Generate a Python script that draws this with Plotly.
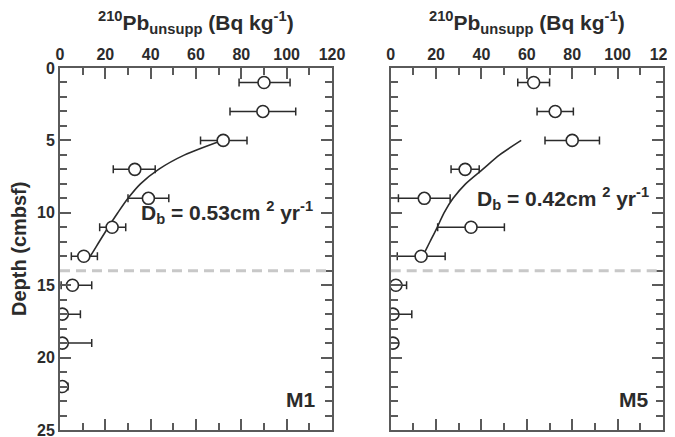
import plotly.graph_objects as go
from plotly.subplots import make_subplots

# ---- M1 data ----
m1_depth = [1, 3, 5, 7, 9, 11, 13, 15, 17, 19, 22]
m1_pb = [90, 89.5, 72, 33, 39, 23, 10.5, 5.5, 1, 1, 1]
m1_err_plus = [11.5, 14.5, 10.5, 9, 9, 6, 6, 8.5, 8, 13, 2.5]
m1_err_minus = [11, 14.5, 10, 9.5, 9, 5.5, 5.5, 5, 1, 1, 1]
m1_fit_depth = [5, 6, 7, 8, 9, 10, 11, 12, 13, 13.2]
m1_fit_pb = [71.5, 55, 43.5, 35.5, 30, 25.5, 21.3, 17.3, 13.3, 12]

# ---- M5 data ----
m5_depth = [1, 3, 5, 7, 9, 11, 13, 15, 17, 19]
m5_pb = [63, 72.5, 80, 32.8, 14.8, 35.4, 13.4, 2.3, 1, 1]
m5_err_plus = [7, 8, 12, 6.2, 11.4, 14.7, 10.6, 4.7, 8.3, 1.5]
m5_err_minus = [7, 8, 12, 6.2, 11.4, 14.7, 10.5, 2.3, 1, 1]
m5_fit_depth = [5, 6, 7, 8, 9, 10, 11, 12, 12.9]
m5_fit_pb = [57.5, 48, 40.5, 33, 27.5, 23.5, 20.5, 17.3, 14.4]

x_ticks = [0, 20, 40, 60, 80, 100, 120]
y_ticks = [0, 5, 10, 15, 20, 25]
boundary_depth = 14
db_labels = ["D<sub>b</sub> = 0.53cm <sup>2</sup> yr<sup>-1</sup>",
             "D<sub>b</sub> = 0.42cm <sup>2</sup> yr<sup>-1</sup>"]
core_labels = ["M1", "M5"]
title_text = "<sup>210</sup>Pb<sub>unsupp</sub> (Bq kg<sup>-1</sup>)"

FONT = "Liberation Sans, Arial, Helvetica, sans-serif"
AX = "#5a5a5a"
INK = "#2b2b2b"

# page body adds an 8px offset; lay out in figure coords = screen - 8
OFF = 8
W, H = 675, 437
ML, MT = 60 - OFF, 68 - OFF
MR = W - (663 - OFF)
MB = H - (430 - OFF)
PW = W - ML - MR
PH = H - MT - MB

fig = make_subplots(rows=1, cols=2)

panels = [
    (m1_depth, m1_pb, m1_err_plus, m1_err_minus, m1_fit_depth, m1_fit_pb),
    (m5_depth, m5_pb, m5_err_plus, m5_err_minus, m5_fit_depth, m5_fit_pb),
]

for i, (d, pb, ep, em, fd, fp) in enumerate(panels, start=1):
    fig.add_trace(go.Scatter(x=fp, y=fd, mode="lines",
                             line=dict(color=INK, width=1.6, shape="spline", smoothing=0.8),
                             showlegend=False, hoverinfo="skip"), row=1, col=i)
    fig.add_trace(go.Scatter(
        x=pb, y=d, mode="markers",
        marker=dict(symbol="circle", size=12, color="white",
                    line=dict(color=INK, width=1.6)),
        error_x=dict(type="data", array=ep, arrayminus=em, symmetric=False,
                     color=INK, thickness=1.5, width=4),
        showlegend=False), row=1, col=i)

domains = [(0, 272 / PW), ((390.7 - 60) / PW, 1.0)]

for i in (1, 2):
    xa = "xaxis" if i == 1 else "xaxis2"
    ya = "yaxis" if i == 1 else "yaxis2"
    fig.layout[xa].update(
        domain=list(domains[i - 1]), range=[0, 120], side="top",
        tickvals=x_ticks, ticks="inside", ticklen=11, tickwidth=1.5,
        tickcolor=AX, showline=True, linecolor=AX, linewidth=2,
        mirror="allticks", showgrid=False, zeroline=False, automargin=False,
        tickfont=dict(family=FONT, size=16, color=INK, weight="bold"),
        minor=dict(dtick=10, ticks="inside", ticklen=7, tickwidth=1.5,
                   tickcolor=AX, showgrid=False),
    )
    fig.layout[ya].update(
        domain=[0, 1], range=[25, 0], anchor="x" if i == 1 else "x2",
        tickvals=y_ticks, ticks="inside", ticklen=11, tickwidth=1.5,
        tickcolor=AX, showline=True, linecolor=AX, linewidth=2,
        mirror="allticks", showgrid=False, zeroline=False, automargin=False,
        showticklabels=(i == 1),
        tickfont=dict(family=FONT, size=16, color=INK, weight="bold"),
        minor=dict(dtick=1, ticks="inside", ticklen=7, tickwidth=1.5,
                   tickcolor=AX, showgrid=False),
    )
    xr = "x" if i == 1 else "x2"
    yr = "y" if i == 1 else "y2"
    fig.add_shape(type="line", xref=xr, yref=yr, x0=0, x1=120,
                  y0=boundary_depth, y1=boundary_depth,
                  line=dict(color="#c8c8c8", width=3, dash="10px,6px"))
    fig.add_annotation(x=0.5, xref=f"{xr} domain", y=1 + (68 - 22) / PH, yref="paper",
                       yanchor="middle", xanchor="center", showarrow=False,
                       text=title_text,
                       font=dict(family=FONT, size=21, color=INK, weight="bold"))

# y-axis title
fig.add_annotation(x=-(ML - 11) / PW, xref="paper", y=1 - (249 - 68) / PH, yref="paper",
                   xanchor="center", yanchor="middle", textangle=-90, showarrow=False,
                   text="Depth (cmbsf)",
                   font=dict(family=FONT, size=20, color=INK, weight="bold"))

# Db labels
fig.add_annotation(x=35, y=10, xref="x", yref="y", xanchor="left", yanchor="middle",
                   showarrow=False, text=db_labels[0],
                   font=dict(family=FONT, size=21, color=INK, weight="bold"))
fig.add_annotation(x=37, y=9, xref="x2", yref="y2", xanchor="left", yanchor="middle",
                   showarrow=False, text=db_labels[1],
                   font=dict(family=FONT, size=21, color=INK, weight="bold"))
# Core labels
fig.add_annotation(x=106, y=22.9, xref="x", yref="y", showarrow=False,
                   text=core_labels[0],
                   font=dict(family=FONT, size=21, color=INK, weight="bold"))
fig.add_annotation(x=107, y=22.9, xref="x2", yref="y2", showarrow=False,
                   text=core_labels[1],
                   font=dict(family=FONT, size=21, color=INK, weight="bold"))

fig.update_layout(width=W, height=H, margin=dict(l=ML, r=MR, t=MT, b=MB),
                  paper_bgcolor="white", plot_bgcolor="white")
fig.write_html("out.html")
